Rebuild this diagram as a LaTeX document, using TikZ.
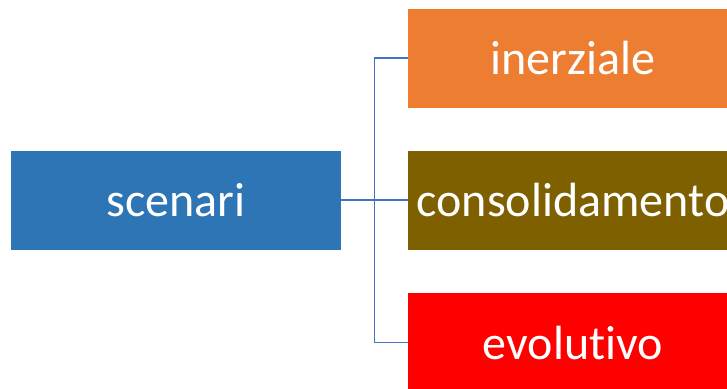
\documentclass[tikz,border=0pt]{standalone}
\usepackage{fontspec}
\setmainfont[Ligatures={NoCommon,NoRare}]{Carlito}
\usetikzlibrary{positioning}
\definecolor{scenblue}{HTML}{2E75B6}
\definecolor{inerorange}{HTML}{ED7D31}
\definecolor{consbrown}{HTML}{7F6000}
\definecolor{evolred}{HTML}{FF0000}
\definecolor{linkblue}{HTML}{4472C4}
\begin{document}
\begin{tikzpicture}[x=0.03cm,y=-0.03cm]
	% size of each box
	\def\bw{330}
	\def\bh{99}
	% box style definition
	\tikzstyle{box} = [rectangle, inner sep=0pt, minimum width=\bw*0.03cm, minimum height=\bh*0.03cm, text=white, font=\fontsize{41}{49}\selectfont];
	\tikzstyle{link} = [draw=linkblue, line width=0.9pt];
	\useasboundingbox (0,0) rectangle (727,388);
	\clip (0,0) rectangle (727,388);
	\node[box, fill=scenblue] (scenari) at (176,200) {scenari};
	\node[box, fill=inerorange] (inerziale) at (573,58) {inerziale};
	\node[box, fill=consbrown] (consolidamento) at (573,200) {consolidamento};
	\node[box, fill=evolred] (evolutivo) at (573,342.5) {evolutivo};
	\coordinate (fork) at (374.5,200);
	% connectors
	\draw[link] (scenari.east) -- (fork);
	\draw[link] (fork) |- (inerziale.west);
	\draw[link] (fork) -- (consolidamento.west);
	\draw[link] (fork) |- (evolutivo.west);
\end{tikzpicture}
\end{document}
